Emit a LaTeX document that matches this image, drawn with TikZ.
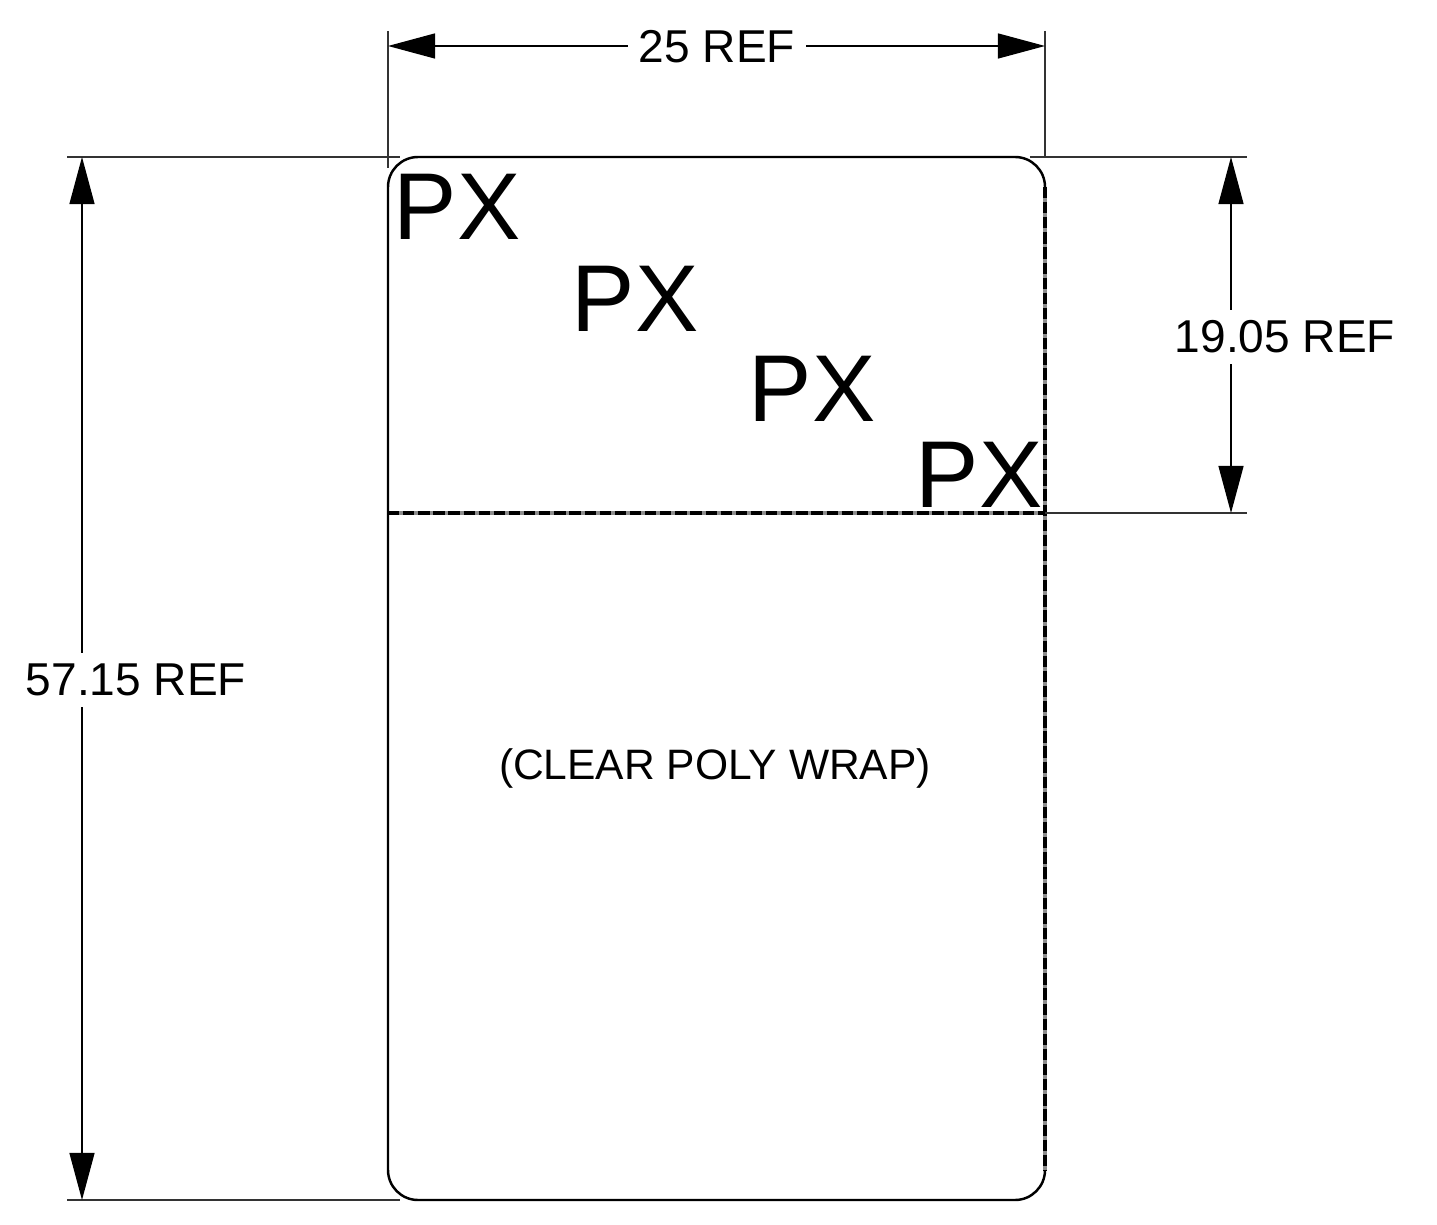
\documentclass[tikz,border=0pt]{standalone}
\usepackage{fontspec}
\setmainfont{Liberation Sans}
\usetikzlibrary{arrows.meta}
\tikzset{
  dimline/.style={line width=0.35pt,{Triangle[length=0.47cm,width=0.25cm]}-{Triangle[length=0.47cm,width=0.25cm]}},
  extline/.style={line width=0.3pt,black!80},
  foldbase/.style={line width=1pt,black!45},
  foldline/.style={line width=1pt,dash pattern=on 3.2pt off 1.1pt},
  dimlabel/.style={font=\fontsize{13.1}{15}\selectfont,fill=white,inner sep=3pt},
  notelabel/.style={font=\fontsize{12.1}{15}\selectfont,inner sep=2pt},
  marklabel/.style={font=\fontsize{27}{30}\selectfont,inner sep=0pt}
}
\begin{document}
\begin{tikzpicture}[x=0.01cm,y=-0.01cm]
\useasboundingbox (0,0) rectangle (1437,1225);
\coordinate (TL) at (388,157);
\coordinate (TR) at (1045,157);
\coordinate (BL) at (388,1200);
\coordinate (BR) at (1045,1200);
\coordinate (ML) at (388,513);
\coordinate (MR) at (1045,513);
\coordinate (SR) at (1045,187);
\coordinate (ER) at (1045,1170);
\coordinate (WL) at (388,46);
\coordinate (WR) at (1045,46);
\coordinate (WLtop) at (388,31);
\coordinate (WRtop) at (1045,31);
\coordinate (WLend) at (388,168);
\coordinate (HT) at (82,157);
\coordinate (HB) at (82,1200);
\coordinate (HTend) at (67,157);
\coordinate (HBend) at (67,1200);
\coordinate (HTin) at (400,157);
\coordinate (HBin) at (400,1200);
\coordinate (RT) at (1231,157);
\coordinate (RB) at (1231,513);
\coordinate (RTend) at (1247,157);
\coordinate (RBend) at (1247,513);
\coordinate (RTin) at (1030,157);
\draw[line width=0.7pt,rounded corners=0.3cm] (TL) -- (TR) -- (BR) -- (BL) -- cycle;
\draw[foldbase] (ML) -- (MR);
\draw[foldbase] (SR) -- (ER);
\draw[foldline] (ML) -- (MR);
\draw[foldline] (SR) -- (ER);
\draw[extline] (WLtop) -- (WLend);
\draw[extline] (WRtop) -- (TR);
\draw[extline] (HTend) -- (HTin);
\draw[extline] (HBend) -- (HBin);
\draw[extline] (RTin) -- (RTend);
\draw[extline] (MR) -- (RBend);
\draw[dimline] (WL) -- (WR);
\draw[dimline] (HT) -- (HB);
\draw[dimline] (RT) -- (RB);
\node[dimlabel] (W) at (717,47) {25 REF};
\node[dimlabel] (H) at (136,680) {57.15 REF};
\node[dimlabel] (F) at (1285,337) {19.05 REF};
\node[notelabel] (C) at (715,768) {(CLEAR POLY WRAP)};
\node[marklabel] (P1) at (457,207) {PX};
\node[marklabel] (P2) at (635,299) {PX};
\node[marklabel] (P3) at (812,389) {PX};
\node[marklabel] (P4) at (979,475) {PX};
\end{tikzpicture}
\end{document}
